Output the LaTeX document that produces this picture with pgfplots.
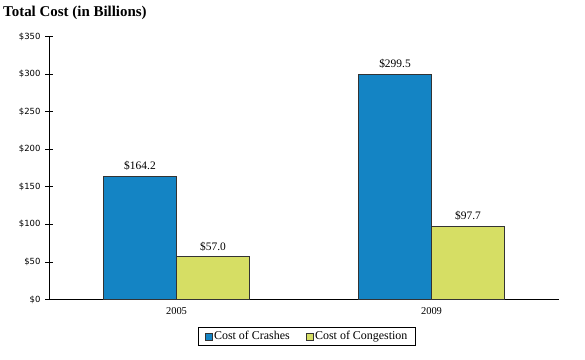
\documentclass[border=0pt]{standalone}
\usepackage{fontspec}
\setmainfont{Liberation Serif}
\newfontfamily\tickfont{DejaVu Sans}
\usepackage{pgfplots}
\pgfplotsset{compat=1.18}
\definecolor{crashblue}{RGB}{20,132,196}
\definecolor{congyellow}{RGB}{214,222,100}
\begin{document}
\begin{tikzpicture}
\path[use as bounding box] (0,0) rectangle (585bp,360bp);
\node[anchor=west,font=\fontsize{15}{17}\selectfont\bfseries,inner sep=0pt] at (3bp,347bp) {Total Cost (in Billions)};
\begin{axis}[
  /pgf/number format/assume math mode=true,
  at={(49bp,60.5bp)}, anchor=south west,
  scale only axis, width=510bp, height=263bp,
  xmin=-0.5, xmax=1.5, ymin=0, ymax=350,
  axis x line=bottom, axis y line=left,
  axis line style={-, black, line width=0.8pt},
  ybar, bar width=73bp,
  xtick={0,1}, xticklabels={2005,2009},
  major x tick style={draw=none},
  extra x ticks={0.5,1.5}, extra x tick labels={},
  extra x tick style={major tick length=8bp, tick align=center, tick style={black, line width=0.8pt}},
  ytick={0,50,...,350},
  yticklabels={\$0,\$50,\$100,\$150,\$200,\$250,\$300,\$350},
  y tick label style={font=\tickfont\fontsize{8.5}{10}\selectfont, xshift=-1bp},
  x tick label style={font=\fontsize{10.5}{11}\selectfont, yshift=-1bp},
  ytick style={black, line width=0.8pt},
  major tick length=8bp, tick align=center,
  nodes near coords={\$\pgfmathprintnumber[fixed,fixed zerofill,precision=1]{\pgfplotspointmeta}},
  every node near coord/.append style={font=\fontsize{11.5}{12}\selectfont, yshift=2bp},
  clip=false,
  legend columns=2,
  legend style={at={(0.506,-0.105)}, anchor=north, draw=black, line width=0.6pt,
    font=\fontsize{12}{13}\selectfont, inner xsep=6pt, inner ysep=2pt,
    /tikz/every even column/.append style={column sep=14pt}},
  legend image code/.code={\draw[#1, line width=0.4pt] (0bp,-3.5bp) rectangle (7bp,3.5bp);},
]
\addplot[fill=crashblue, draw=black!80, line width=0.6pt, bar shift=-36.5bp] coordinates {(0,164.2) (1,299.5)};
\addplot[fill=congyellow, draw=black!80, line width=0.6pt, bar shift=36.5bp] coordinates {(0,57.0) (1,97.7)};
\legend{Cost of Crashes, Cost of Congestion}
\end{axis}
\end{tikzpicture}
\end{document}
